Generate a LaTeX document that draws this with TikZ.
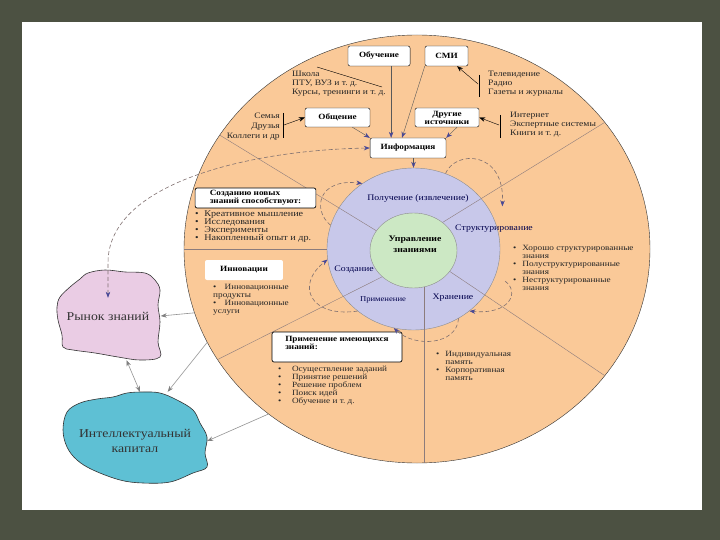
\documentclass[tikz,border=0pt]{standalone}
\usepackage{fontspec}
\setmainfont{Liberation Serif}
\usetikzlibrary{arrows.meta,shapes.geometric}

\definecolor{framebg}{RGB}{76,81,66}
\definecolor{peach}{RGB}{250,201,152}
\definecolor{lilac}{RGB}{200,200,234}
\definecolor{mint}{RGB}{204,232,196}
\definecolor{blush}{RGB}{234,204,228}
\definecolor{aqua}{RGB}{94,192,212}
\definecolor{headblue}{RGB}{72,72,150}
\definecolor{divline}{RGB}{140,124,124}
\definecolor{dashgray}{RGB}{128,112,112}

\newcommand{\bul}[1]{\makebox[#1][l]{\textbullet}}

\begin{document}
\begin{tikzpicture}[x=1pt,y=-1pt]
\tikzstyle{txt}=[inner sep=0pt, xscale=1.15, align=left, font=\fontsize{8}{8}\selectfont, text=black!85]
\tikzstyle{box}=[draw, rounded corners=2pt, fill=white, inner sep=1pt, xscale=1.15, align=center, font=\bfseries\fontsize{8}{8}\selectfont]
\tikzstyle{stage}=[inner sep=0pt, xscale=1.15, font=\fontsize{8.5}{9}\selectfont, text=black!70!blue]
\tikzstyle{src}=[draw=black, -{Stealth[length=6pt,width=4.5pt]}]
\tikzstyle{feed}=[draw=black!65, -{Stealth[length=6pt,width=4.5pt,color=headblue]}]
\tikzstyle{dashloop}=[draw=dashgray, line width=0.6pt, dash pattern=on 4pt off 2.5pt, -{Stealth[length=6pt,width=4.5pt,color=headblue]}]
\tikzstyle{outer}=[draw=gray!85, line width=0.6pt, -{Stealth[length=6pt,width=4.5pt,color=gray]}]

\useasboundingbox (0,0) rectangle (720,540);
\fill[framebg] (0,0) rectangle (720,540);
\fill[white] (22,22) rectangle (702,510);

\filldraw[fill=blush, draw=black!80, line width=0.6pt] plot[smooth cycle, tension=0.6] coordinates {(88,273) (105,270) (125,272) (145,273) (155,280) (160,290) (158,305) (160,322) (158,342) (160,357) (140,360) (118,357) (95,353) (73,350) (63,347) (62,335) (58,320) (57,307) (60,297) (70,287) (80,279)};
\filldraw[fill=aqua, draw=black!80, line width=0.6pt] plot[smooth cycle, tension=0.6] coordinates {(67,412) (80,403) (97,399) (113,397) (127,393) (143,392) (160,393) (177,400) (193,410) (200,423) (207,437) (205,453) (207,467) (193,473) (170,482) (143,483) (120,480) (93,470) (77,460) (67,447) (63,430)};
\node (market) [xscale=1.15, minimum width=91.3, minimum height=88, font=\fontsize{12}{12}\selectfont, text=black!80] at (108,316) {Рынок знаний};
\node (capital) [xscale=1.15, minimum width=125.2, minimum height=98, align=center, font=\fontsize{12}{15}\selectfont, text=black!80] at (135,441) {Интеллектуальный\\капитал};

\node (big) [ellipse, draw=black!80, fill=peach, inner sep=0pt, minimum width=466, minimum height=428] at (417,249) {};
\node (ring) [ellipse, draw=black!45, fill=lilac, inner sep=0pt, minimum width=173, minimum height=162] at (413.5,249) {};
\node (core) [ellipse, draw=black!45, fill=mint, inner sep=0pt, minimum width=87, minimum height=75] at (413.5,250.5) {};

\draw[divline] (ring.west) -- (ring.west -| big.west);
\draw[divline] (core.152) -- (big.150);
\draw[divline] (core.44) -- (big.34);
\draw[divline] (core.-30) -- (big.-34);
\draw[divline] (core.-73) -- (core.-73 |- big.south);
\draw[divline] (core.220) -- (big.209);

\node (mgmt) [inner sep=0pt, xscale=1.15, align=center, font=\bfseries\fontsize{8.5}{11}\selectfont] at (415,244) {Управление\\знаниями};
\node (get) [stage] at (418,198) {Получение (извлечение)};
\node (struct) [stage, anchor=west] at (455,229) {Структурирование};
\node (make) [stage] at (354,270) {Создание};
\node (use) [stage, font=\fontsize{7.5}{8}\selectfont] at (383,300) {Применение};
\node (keep) [stage] at (453,298) {Хранение};

\node (learn) [box, minimum width=54, minimum height=20] at (379,56) {Обучение};
\node (smi) [box, minimum width=37.4, minimum height=20] at (446.5,56) {СМИ};
\node (talk) [box, minimum width=56.5, minimum height=19] at (337.5,117.5) {Общение};
\node (other) [box, minimum width=55.7, minimum height=19] at (447,117.5) {Другие\\источники};
\node (info) [box, minimum width=66, minimum height=20] at (408,148) {Информация};
\node (newk) [box, line width=0.7pt, align=left, minimum width=105, minimum height=20] at (255.5,198) {Созданию новых\\знаний способствуют:};
\node (apply) [box, line width=0.7pt, align=left, minimum width=113, minimum height=30] at (337,347) {Применение имеющихся\\знаний:\\\mbox{}};
\node (innov) [box, draw=none, minimum width=67.8, minimum height=20] at (244,270) {Инновации};

\node (school) [txt, anchor=west, font=\fontsize{8.3}{9}\selectfont] at (292,84) {Школа\\ПТУ, ВУЗ и т.~д.\\Курсы, тренинги и т.~д.};
\node (media) [txt, anchor=west, font=\fontsize{8.3}{9}\selectfont] at (488,84) {Телевидение\\Радио\\Газеты и журналы};
\node (family) [txt, anchor=east, align=right, font=\fontsize{8.3}{10}\selectfont] at (280,127) {Семья\\Друзья\\Коллеги и др};
\node (net) [txt, anchor=west, font=\fontsize{8.3}{9}\selectfont] at (510,125) {Интернет\\Экспертные системы\\Книги и т.~д.};

\coordinate (schA) at (317,67);
\coordinate (schB) at (382,87);
\coordinate (tvbar) at (478,84);
\coordinate (fambar) at (284,125);
\coordinate (netbar) at (499,125);
\draw (schA) -- (schB);
\draw (479,75) -- (479,97);
\draw (283,113) -- (283,138);
\draw (500,115) -- (500,138);
\draw[src] (tvbar) -- (smi.-48);
\draw[src] (fambar) -- (talk.west);
\draw[src] (netbar) -- (other.east);

\draw[feed] (talk.-37) -- (info.north west);
\draw[feed] (learn.-44) -- (learn.-44 |- info.north);
\draw[feed] (smi.south west) -- (info.117);
\draw[feed] (other.-48) -- (info.north east);
\draw[feed] (info.south -| ring.north) -- (ring.north);

\node (newlist) [txt, anchor=west, font=\fontsize{8.8}{8}\selectfont] at (195,227) {\bul{8pt}Креативное мышление\\\bul{8pt}Исследования\\\bul{8pt}Эксперименты\\\bul{8pt}Накопленный опыт и др.};
\node (innovlist) [txt, anchor=west] at (213,300) {\bul{10pt}Инновационные\\продукты\\\bul{10pt}Инновационные\\услуги};
\node (applylist) [txt, anchor=west] at (278,386) {\bul{12pt}Осуществление заданий\\\bul{12pt}Принятие решений\\\bul{12pt}Решение проблем\\\bul{12pt}Поиск идей\\\bul{12pt}Обучение и т.~д.};
\node (memlist) [txt, anchor=west] at (436,366) {\bul{8pt}Индивидуальная\\\hspace*{8pt}память\\\bul{8pt}Корпоративная\\\hspace*{8pt}память};
\node (structlist) [txt, anchor=west] at (513,268) {\bul{8pt}Хорошо структурированные\\\hspace*{8pt}знания\\\bul{8pt}Полуструктурированные\\\hspace*{8pt}знания\\\bul{8pt}Неструктурированные\\\hspace*{8pt}знания};

\draw[dashloop] (ring.164) .. controls (312,210) and (318,178) .. (ring.128);
\draw[dashloop] (ring.67) .. controls (455,150) and (505,150) .. ([xshift=15pt]ring.30);
\draw[dashloop] ([xshift=12pt]ring.-22) .. controls (520,292) and (510,315) .. (ring.-48);
\draw[dashloop] (ring.-57) .. controls (457,345) and (415,348) .. (ring.-104);
\draw[dashloop] (ring.-132) .. controls (310,318) and (295,285) .. (ring.187);

\draw[dashloop, {Stealth[length=6pt,width=4.5pt,color=headblue]}-{Stealth[length=6pt,width=4.5pt,color=headblue]}] ([yshift=-26pt]market.north) -- ++(0,-35) .. controls +(0,-80) and (250,150) .. (info.west);

\draw[outer] (big.196) -- (market.east);
\draw[outer] (big.204) -- (capital.60);
\draw[outer] (big.228) -- (capital.east);
\draw[outer, {Stealth[length=6pt,width=4.5pt,color=gray]}-{Stealth[length=6pt,width=4.5pt,color=gray]}] (market.-70) -- (capital.85);
\end{tikzpicture}
\end{document}
